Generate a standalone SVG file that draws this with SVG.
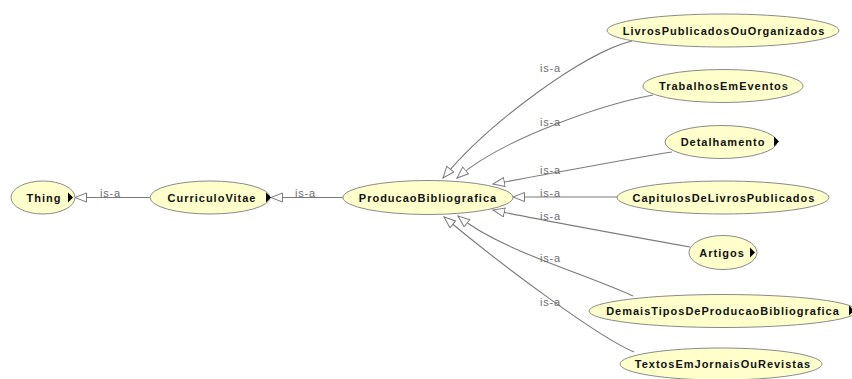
<svg xmlns="http://www.w3.org/2000/svg" width="852" height="379" viewBox="0 0 852 379">
  <defs>
    <style>
      .node ellipse { fill: #ffffcc; stroke: #8a8a8a; stroke-width: 1; }
      .node text { font-family: "Liberation Sans", Arial, sans-serif; font-size: 11px; font-weight: bold; fill: #111; text-anchor: middle; letter-spacing: 1px; }
      .expand { fill: #000; }
      .edge { fill: none; stroke: #7a7a7a; stroke-width: 1.1; marker-end: url(#isa); }
      .lbl { font-family: "Liberation Sans", Arial, sans-serif; font-size: 11px; fill: #6e6e6e; letter-spacing: 0.8px; }
    </style>
    <marker id="isa" markerUnits="userSpaceOnUse" markerWidth="14" markerHeight="12" refX="12" refY="5" orient="auto">
      <path d="M0.5,0.5 L12,5 L0.5,9.5 Z" fill="#fff" stroke="#7a7a7a" stroke-width="1"/>
    </marker>
  </defs>

  <rect width="852" height="379" fill="#fff"/>

  <!-- subclass connectors -->
  <g id="edges">
    <path class="edge" d="M150,197.5 L75,197.5"/>
    <path class="edge" d="M343,197.5 L271,197.5"/>
    <path class="edge" d="M632,41 C585,52 488,123 443,178"/>
    <path class="edge" d="M653,95 C600,105 500,140 457,178"/>
    <path class="edge" d="M672,152 C620,160 540,176 493,184"/>
    <path class="edge" d="M617,197 L513,197"/>
    <path class="edge" d="M690,247 C640,238 540,220 493,210"/>
    <path class="edge" d="M633,296 C580,272 500,250 458,216"/>
    <path class="edge" d="M634,352 C600,338 505,268 444,217"/>
    <g id="edge-labels">
      <text class="lbl" x="100" y="197">is-a</text>
      <text class="lbl" x="295" y="197">is-a</text>
      <text class="lbl" x="540" y="72">is-a</text>
      <text class="lbl" x="540" y="126">is-a</text>
      <text class="lbl" x="540" y="174">is-a</text>
      <text class="lbl" x="540" y="197">is-a</text>
      <text class="lbl" x="540" y="220">is-a</text>
      <text class="lbl" x="540" y="262">is-a</text>
      <text class="lbl" x="540" y="306">is-a</text>
    </g>
  </g>

  <g id="Thing" class="node">
    <ellipse cx="43" cy="197.5" rx="32" ry="16.5"/>
    <text x="44" y="201.5">Thing</text>
    <path class="expand" d="M68,192.5 L73,197.5 L68,202.5 Z"/>
  </g>
  <g id="CurriculoVitae" class="node">
    <ellipse cx="210" cy="197.5" rx="60" ry="16.5"/>
    <text x="212" y="201.5">CurriculoVitae</text>
    <path class="expand" d="M266,192.5 L271,197.5 L266,202.5 Z"/>
  </g>
  <g id="ProducaoBibliografica" class="node">
    <ellipse cx="428" cy="197.5" rx="85" ry="17"/>
    <text x="428" y="201.5">ProducaoBibliografica</text>
  </g>
  <g id="LivrosPublicadosOuOrganizados" class="node">
    <ellipse cx="723" cy="30.5" rx="116" ry="16.5"/>
    <text x="724" y="34.5">LivrosPublicadosOuOrganizados</text>
  </g>
  <g id="TrabalhosEmEventos" class="node">
    <ellipse cx="723" cy="86" rx="80" ry="16.5"/>
    <text x="724" y="90">TrabalhosEmEventos</text>
  </g>
  <g id="Detalhamento" class="node">
    <ellipse cx="721" cy="142" rx="56" ry="16.5"/>
    <text x="723" y="146">Detalhamento</text>
    <path class="expand" d="M774,136.5 L779,141.5 L774,146.5 Z"/>
  </g>
  <g id="CapitulosDeLivrosPublicados" class="node">
    <ellipse cx="723" cy="197.5" rx="106" ry="16.5"/>
    <text x="724" y="201.5">CapitulosDeLivrosPublicados</text>
  </g>
  <g id="Artigos" class="node">
    <ellipse cx="723" cy="252.5" rx="34" ry="17"/>
    <text x="722" y="256.5">Artigos</text>
    <path class="expand" d="M750,247.5 L755,252.5 L750,257.5 Z"/>
  </g>
  <g id="DemaisTiposDeProducaoBibliografica" class="node">
    <ellipse cx="723" cy="311" rx="134" ry="16.5"/>
    <text x="723" y="315">DemaisTiposDeProducaoBibliografica</text>
    <path class="expand" d="M849,305.5 L854,310.5 L849,315.5 Z"/>
  </g>
  <g id="TextosEmJornaisOuRevistas" class="node">
    <ellipse cx="721" cy="364" rx="101" ry="16"/>
    <text x="723" y="368">TextosEmJornaisOuRevistas</text>
  </g>
</svg>
